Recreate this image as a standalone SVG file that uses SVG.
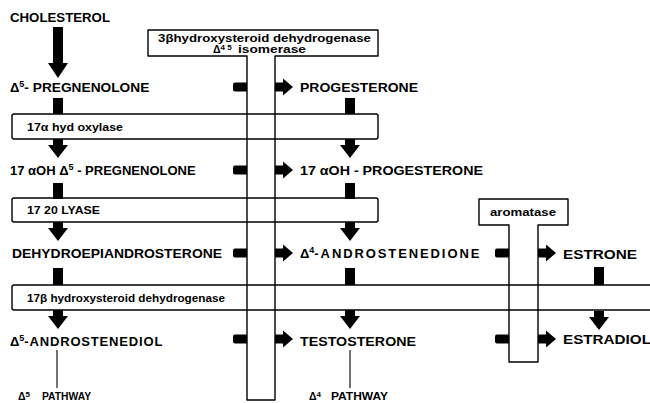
<svg xmlns="http://www.w3.org/2000/svg" width="650" height="403" viewBox="0 0 650 403">
<style>
.lbl{font-family:"Liberation Sans",Arial,sans-serif;font-weight:bold;font-size:13px;fill:#000}
.sm{font-family:"Liberation Sans",Arial,sans-serif;font-weight:bold;font-size:10.5px;fill:#000}
.box{fill:none;stroke:#000;stroke-width:1.4;stroke-linejoin:round}
.thin{stroke:#000;stroke-width:1.1;fill:none}
.a{fill:#000}
</style>
<defs>
<path id="vstub" d="M-5 0 H5 V16 H-5 Z"/>
<path id="varrow" d="M-5 0 H5 V6 H10 L0 19 L-10 6 H-5 Z"/>
<path id="hstub" d="M2 -4.5 H14 V4.5 H2 Q0 4.5 0 2.5 V-2.5 Q0 -4.5 2 -4.5 Z"/>
<path id="harrow" d="M0 -4.5 H8 V-8.5 L18 0 L8 8.5 V4.5 H0 Z"/>
</defs>
<g id="enzymes">
<path id="hsd3b" class="box" d="M148 30 H378 V56 H275 V400 H247 V56 H148 Z"/>
<path id="aromatase" class="box" d="M479 199 H568 V225 H538 V362 H509 V225 H479 Z"/>
<rect id="hydroxylase" class="box" x="12" y="114" width="366" height="25" rx="2"/>
<rect id="lyase" class="box" x="12" y="198" width="366" height="24" rx="2"/>
<rect id="hsd17b" class="box" x="12" y="285" width="650" height="25" rx="2"/>
<text class="sm" x="158" y="42" textLength="213" lengthAdjust="spacingAndGlyphs">3βhydroxysteroid   dehydrogenase</text>
<text class="sm" x="213" y="53">Δ<tspan font-size="8" dy="-3">4 5</tspan><tspan x="238" dy="3" textLength="68" lengthAdjust="spacingAndGlyphs">isomerase</tspan></text>
<text class="sm" x="490" y="216" textLength="66" lengthAdjust="spacingAndGlyphs">aromatase</text>
<text class="sm" x="27" y="131" textLength="96" lengthAdjust="spacingAndGlyphs">17α hyd oxylase</text>
<text class="sm" x="27" y="214" textLength="73" lengthAdjust="spacingAndGlyphs">17 20 LYASE</text>
<text class="sm" x="27" y="302" textLength="198" lengthAdjust="spacingAndGlyphs">17β hydroxysteroid dehydrogenase</text>
</g>
<g id="n-cholesterol"><text class="lbl" x="10" y="22" textLength="100" lengthAdjust="spacingAndGlyphs">CHOLESTEROL</text></g>
<g id="n-pregnenolone"><text class="lbl" x="10" y="92">Δ<tspan font-size="9" dy="-5">5</tspan><tspan dy="5" textLength="125" lengthAdjust="spacingAndGlyphs">- PREGNENOLONE</tspan></text></g>
<g id="n-progesterone"><text class="lbl" x="300" y="92" textLength="118" lengthAdjust="spacingAndGlyphs">PROGESTERONE</text></g>
<g id="n-17ohpreg"><text class="lbl" x="10" y="175">17 αOH Δ<tspan font-size="9" dy="-5">5</tspan><tspan dy="5"> - PREGNENOLONE</tspan></text></g>
<g id="n-17ohprog"><text class="lbl" x="300" y="175" textLength="183" lengthAdjust="spacingAndGlyphs">17 αOH - PROGESTERONE</text></g>
<g id="n-dhea"><text class="lbl" x="12" y="258" textLength="210" lengthAdjust="spacingAndGlyphs">DEHYDROEPIANDROSTERONE</text></g>
<g id="n-androstenedione"><text class="lbl" x="300" y="258">Δ<tspan font-size="9" dy="-5">4</tspan><tspan dy="5" textLength="165" lengthAdjust="spacing">-ANDROSTENEDIONE</tspan></text></g>
<g id="n-estrone"><text class="lbl" x="563" y="259" textLength="74" lengthAdjust="spacingAndGlyphs">ESTRONE</text></g>
<g id="n-androstenediol"><text class="lbl" x="10" y="346">Δ<tspan font-size="9" dy="-5">5</tspan><tspan dy="5" textLength="138" lengthAdjust="spacing">-ANDROSTENEDIOL</tspan></text></g>
<g id="n-testosterone"><text class="lbl" x="300" y="346" textLength="116" lengthAdjust="spacingAndGlyphs">TESTOSTERONE</text></g>
<g id="n-estradiol"><text class="lbl" x="563" y="344" textLength="88" lengthAdjust="spacingAndGlyphs">ESTRADIOL</text></g>
<g id="n-d5path"><text class="sm" x="18" y="400">Δ<tspan font-size="8" dy="-3">5</tspan><tspan x="42" dy="3" textLength="49" lengthAdjust="spacingAndGlyphs">PATHWAY</tspan></text></g>
<g id="n-d4path"><text class="sm" x="309" y="400">Δ<tspan font-size="8" dy="-3">4</tspan><tspan x="331" dy="3" textLength="57" lengthAdjust="spacingAndGlyphs">PATHWAY</tspan></text></g>
<g id="connectors">
<path class="a" d="M53 27 H63 V63 H68 L58 78 L48 63 H53 Z"/>
<use href="#vstub" x="58" y="98" class="a"/>
<use href="#varrow" x="58" y="139" class="a"/>
<use href="#vstub" x="58" y="183" class="a"/>
<use href="#varrow" x="58" y="222" class="a"/>
<rect x="53" y="268" width="10" height="17" class="a"/>
<use href="#varrow" x="58" y="310" class="a"/>
<use href="#vstub" x="350" y="98" class="a"/>
<use href="#varrow" x="350" y="139" class="a"/>
<use href="#vstub" x="350" y="183" class="a"/>
<use href="#varrow" x="350" y="222" class="a"/>
<rect x="345" y="268" width="10" height="17" class="a"/>
<use href="#varrow" x="350" y="310" class="a"/>
<rect x="594" y="267" width="10" height="18" class="a"/>
<use href="#varrow" x="599" y="311" class="a"/>
<use href="#hstub" x="233" y="87" class="a"/>
<use href="#harrow" x="275" y="87" class="a"/>
<use href="#hstub" x="233" y="170" class="a"/>
<use href="#harrow" x="275" y="170" class="a"/>
<use href="#hstub" x="233" y="253" class="a"/>
<use href="#harrow" x="275" y="253" class="a"/>
<use href="#hstub" x="233" y="339" class="a"/>
<use href="#harrow" x="275" y="339" class="a"/>
<use href="#hstub" x="495" y="253" class="a"/>
<use href="#harrow" x="538" y="253" class="a"/>
<use href="#hstub" x="495" y="339" class="a"/>
<use href="#harrow" x="538" y="339" class="a"/>
<line class="thin" x1="57" y1="350" x2="57" y2="388"/>
<line class="thin" x1="350" y1="350" x2="350" y2="388"/>
</g>
</svg>
